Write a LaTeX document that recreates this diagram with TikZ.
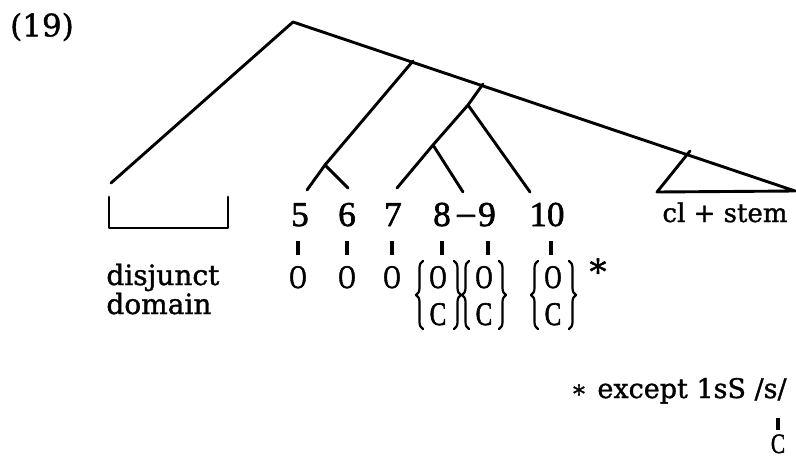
\documentclass[tikz,border=0pt]{standalone}
\usepackage{fontspec}
\setmainfont{DejaVu Serif}[UprightFeatures={FakeBold=1.2}]
\newfontfamily\numfont{Liberation Serif}[UprightFeatures={FakeBold=1.8}]
\usetikzlibrary{decorations.pathreplacing}
\newcommand{\narrowO}{\scalebox{0.72}[1]{O}}
\newcommand{\narrowC}{\scalebox{0.76}[1]{C}}
\begin{document}
\begin{tikzpicture}[x=1pt,y=-1pt, line width=2.9pt, line cap=round, line join=round,
  word/.style={font=\fontsize{28}{32}\selectfont, inner sep=0pt, anchor=base},
  num/.style={font=\numfont\fontsize{35}{40}\selectfont, inner sep=0pt, anchor=base},
  seg/.style={font=\numfont\fontsize{33}{36}\selectfont, inner sep=0pt, anchor=base},
  tickmark/.style={line width=3.2pt, line cap=butt},
  brc/.style={decorate, decoration={brace, amplitude=7pt}, line width=2.2pt},
  starmark/.style={font=\fontsize{34}{34}\selectfont, inner sep=0pt, anchor=north}]
\useasboundingbox (0,0) rectangle (796,461);

% label
\node[font=\fontsize{31}{34}\selectfont, inner sep=0pt] (ex) at (42,27) {(19)};

% tree points
\coordinate (root) at (293,22);
\coordinate (end) at (795,191);
\coordinate (dj) at (111,183);
\coordinate (a0) at (413,61);
\coordinate (a) at (325,165);
\coordinate (l5) at (307,190);
\coordinate (l6) at (348,188);
\coordinate (b0) at (483,84);
\coordinate (b) at (468,105);
\coordinate (c) at (433,145);
\coordinate (l7) at (397,188);
\coordinate (l89) at (463,192);
\coordinate (l10) at (530,192);
\coordinate (t0) at (690,151);
\coordinate (tl) at (657,192);

\draw (dj) -- (root) -- (end) -- (tl) -- (t0);
\draw (a0) -- (a) -- (l5);
\draw (a) -- (l6);
\draw (b0) -- (b) -- (c) -- (l7);
\draw (c) -- (l89);
\draw (b) -- (l10);

% disjunct domain bracket
\draw (109,197) -- (109,228) -- (228,228) -- (228,197);
\node[word, anchor=base west] (disj) at (105,285) {disjunct};
\node[word, anchor=base west] (dom) at (105,314) {domain};

% numbers
\node[num] (n5) at (300,226) {5};
\node[num] (n6) at (347,226) {6};
\node[num] (n7) at (393,226) {7};
\node[num] (n8) at (442,226) {8};
\node[num] (nd) at (466,224) {\char"2013};
\node[num] (n9) at (487,226) {9};
\node[num] (n10) at (547,226) {10};

% ticks
\foreach \x in {298,347,392,442,488,551}{
  \draw[tickmark] (\x,241) -- (\x,255);
}

% segments
\node[seg] (o5) at (298,288) {\narrowO};
\node[seg] (o6) at (347,288) {\narrowO};
\node[seg] (o7) at (392,288) {\narrowO};
\node[seg] (o8) at (438,288) {\narrowO};
\node[seg] (c8) at (438,325) {\narrowC};
\node[seg] (o9) at (484,288) {\narrowO};
\node[seg] (c9) at (484,325) {\narrowC};
\node[seg] (o10) at (553,288) {\narrowO};
\node[seg] (c10) at (553,325) {\narrowC};

% braces
\draw[brc] (423,329) -- (423,261);
\draw[brc] (454,261) -- (454,329);
\draw[brc] (469,329) -- (469,261);
\draw[brc] (499,261) -- (499,329);
\draw[brc] (538,329) -- (538,261);
\draw[brc] (569,261) -- (569,329);

\node[starmark] (st1) at (598,257) {*};

% cl + stem
\node[word, font=\fontsize{26}{30}\selectfont] (cl) at (725,222) {cl + stem};

% footnote
\node[starmark, font=\fontsize{24}{24}\selectfont] (st2) at (579,383) {*};
\node[word, anchor=base west, font=\fontsize{27}{30}\selectfont] (exc) at (596,398) {except 1sS /s/};
\draw[tickmark] (778,418) -- (778,430);
\node[seg, font=\numfont\fontsize{28}{30}\selectfont] (cc) at (778,453) {\narrowC};
\end{tikzpicture}
\end{document}
